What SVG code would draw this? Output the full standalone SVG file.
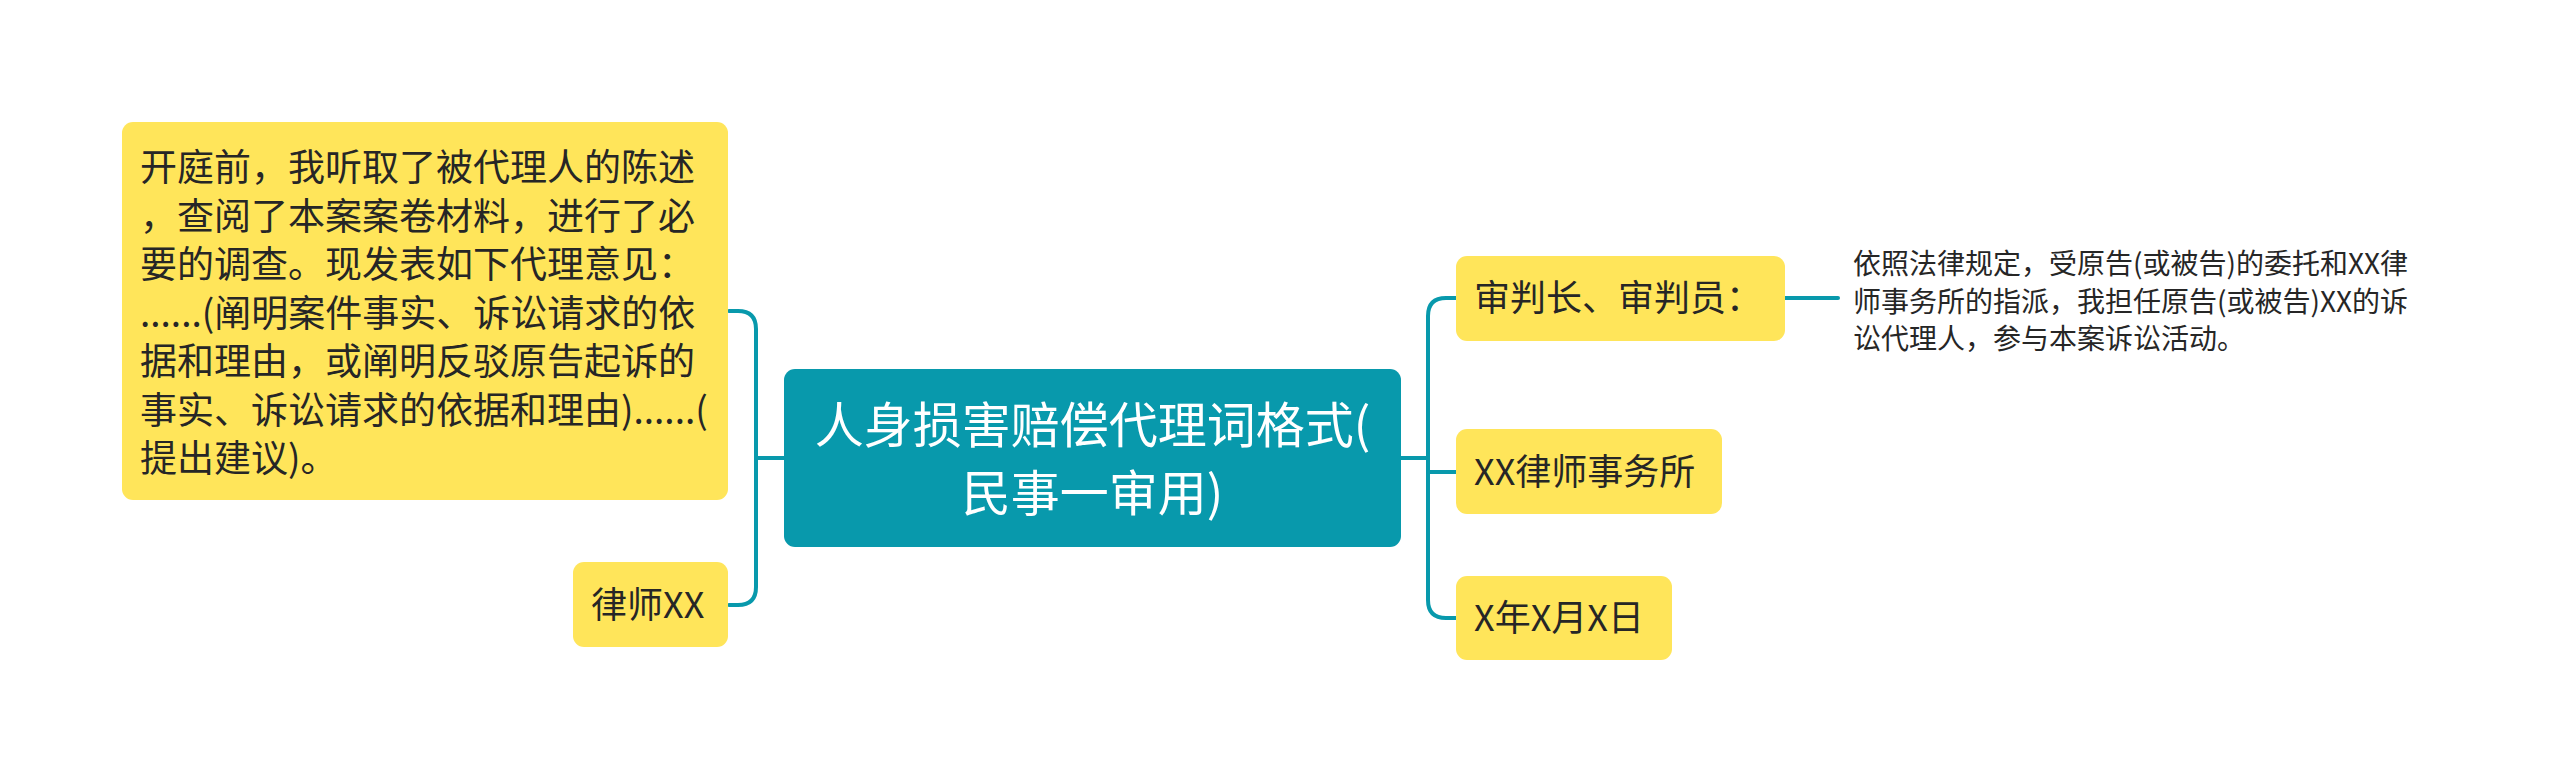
<svg xmlns="http://www.w3.org/2000/svg" width="2560" height="784" viewBox="0 0 2560 784">
<style>
.t{font-family:"Noto Sans CJK SC","Noto Sans",sans-serif;fill:#262626}
.leaf{fill:#FFE55A}
.c{fill:none;stroke:#0899AC;stroke-width:4;stroke-linecap:round;stroke-linejoin:round}
</style>
<rect width="2560" height="784" fill="#ffffff"/>
<g id="connectors">
<path class="c" d="M784,458 H756"/>
<path class="c" d="M729,311 H738 Q756,311 756,329 V587 Q756,605 738,605 H729"/>
<path class="c" d="M1401,458 H1428"/>
<path class="c" d="M1456,298 H1446 Q1428,298 1428,316 V600 Q1428,618 1446,618 H1456"/>
<path class="c" d="M1428,472 H1456"/>
<path class="c" d="M1785,298 H1838"/>
</g>
<g id="root">
<rect x="784" y="369" width="617" height="178" rx="11" fill="#0899AC"/>
<text class="t" font-size="49" style="fill:#ffffff" text-anchor="middle"><tspan x="1092.5" y="443">人身损害赔偿代理词格式(</tspan><tspan x="1092.5" y="511">民事一审用)</tspan></text>
</g>
<g id="opinion">
<rect class="leaf" x="122" y="122" width="606" height="378" rx="11"/>
<text class="t" font-size="37"><tspan x="140" y="181">开庭前，我听取了被代理人的陈述</tspan><tspan x="140" y="229.5">，查阅了本案案卷材料，进行了必</tspan><tspan x="140" y="278">要的调查。现发表如下代理意见：</tspan><tspan x="140" y="326.5">......(阐明案件事实、诉讼请求的依</tspan><tspan x="140" y="375">据和理由，或阐明反驳原告起诉的</tspan><tspan x="140" y="423.5">事实、诉讼请求的依据和理由)......(</tspan><tspan x="140" y="472">提出建议)。</tspan></text>
</g>
<g id="lawyer">
<rect class="leaf" x="573" y="562" width="155" height="85" rx="11"/>
<text class="t" font-size="36" x="591" y="618">律师XX</text>
</g>
<g id="judges">
<rect class="leaf" x="1456" y="256" width="329" height="85" rx="11"/>
<text class="t" font-size="36" x="1474" y="311">审判长、审判员：</text>
</g>
<g id="judges-note">
<text class="t" font-size="28"><tspan x="1853" y="274">依照法律规定，受原告(或被告)的委托和XX律</tspan><tspan x="1853" y="311.5">师事务所的指派，我担任原告(或被告)XX的诉</tspan><tspan x="1853" y="349">讼代理人，参与本案诉讼活动。</tspan></text>
</g>
<g id="firm">
<rect class="leaf" x="1456" y="429" width="266" height="85" rx="11"/>
<text class="t" font-size="36" x="1474" y="485">XX律师事务所</text>
</g>
<g id="date">
<rect class="leaf" x="1456" y="576" width="216" height="84" rx="11"/>
<text class="t" font-size="36" x="1474" y="631">X年X月X日</text>
</g>
</svg>
